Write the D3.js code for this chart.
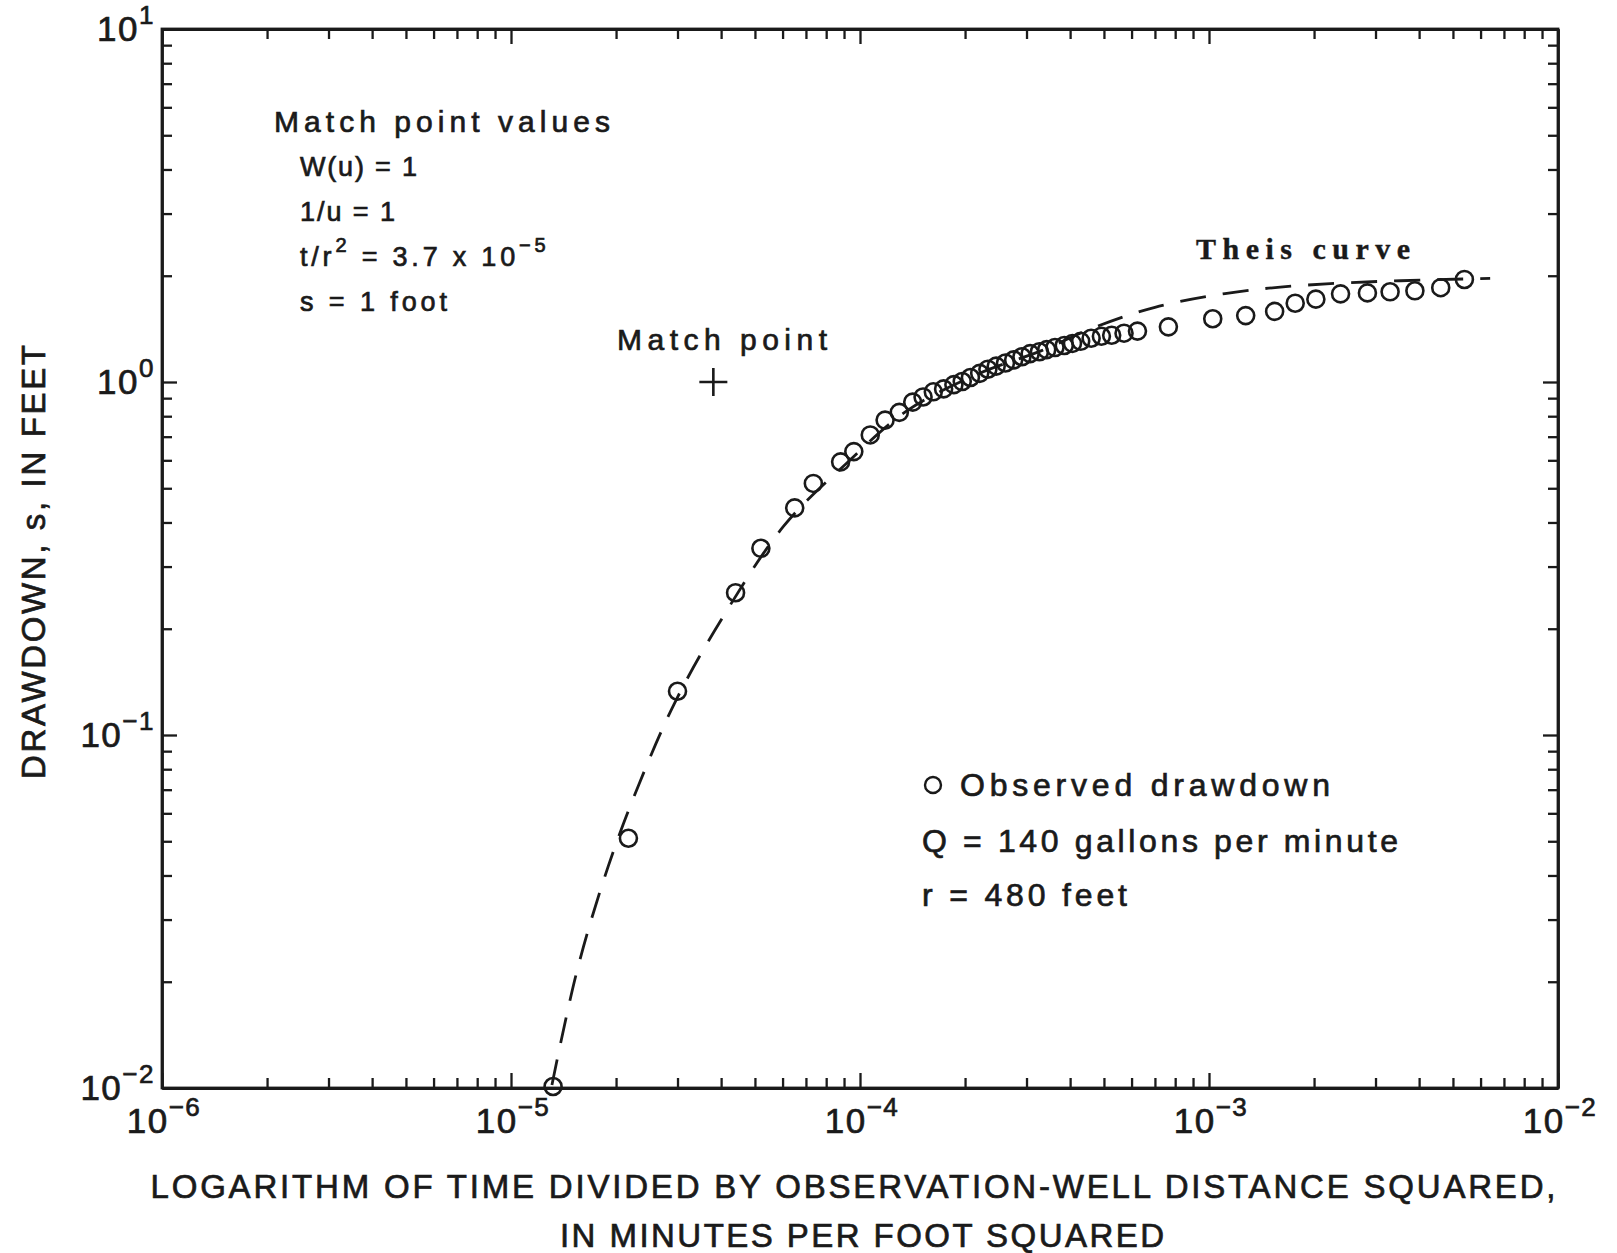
<!DOCTYPE html>
<html>
<head>
<meta charset="utf-8">
<script src="https://cdn.jsdelivr.net/npm/d3@7"></script>
<style>
  html, body { margin: 0; padding: 0; background: #fff; }
  svg { display: block; }
  text { font-family: "Liberation Sans", Arial, Helvetica, sans-serif; fill: #1a1a1a; stroke: #1a1a1a; stroke-width: 0.7px; }
</style>
</head>
<body>
<svg id="chart" width="1617" height="1253"></svg>
<script>
// ---------------- data ----------------
const xDomain = [1e-6, 1e-2];
const yDomain = [1e-2, 1e1];
const xTickValues = [1e-6, 1e-5, 1e-4, 1e-3, 1e-2];
const xTickExponents = ["−6", "−5", "−4", "−3", "−2"];
const yTickValues = [1e-2, 1e-1, 1e0, 1e1];
const yTickExponents = ["−2", "−1", "0", "1"];

// observed drawdown: t/r^2 (min/ft^2) and s (ft)
const obsT = [1.32e-5, 2.17e-5, 3.0e-5, 4.4e-5, 5.2e-5, 6.5e-5, 7.35e-5, 8.8e-5, 9.6e-5,
  1.07e-4, 1.18e-4, 1.296e-4, 1.416e-4, 1.516e-4, 1.622e-4, 1.736e-4, 1.858e-4, 1.963e-4,
  2.072e-4, 2.203e-4, 2.325e-4, 2.456e-4, 2.611e-4, 2.756e-4, 2.911e-4, 3.073e-4, 3.267e-4,
  3.428e-4, 3.620e-4, 3.849e-4, 4.063e-4, 4.289e-4, 4.595e-4, 4.917e-4, 5.262e-4, 5.709e-4,
  6.238e-4, 7.65e-4, 1.025e-3, 1.274e-3, 1.542e-3, 1.766e-3, 2.024e-3, 2.382e-3, 2.844e-3,
  3.303e-3, 3.890e-3, 4.613e-3, 5.393e-3];
const obsS = [0.0101, 0.051, 0.133, 0.253, 0.338, 0.44, 0.516, 0.594, 0.635,
  0.708, 0.78, 0.820, 0.877, 0.907, 0.938, 0.956, 0.983, 1.003,
  1.030, 1.058, 1.087, 1.109, 1.132, 1.155, 1.179, 1.203, 1.218,
  1.235, 1.252, 1.269, 1.286, 1.304, 1.330, 1.348, 1.357, 1.375,
  1.394, 1.433, 1.511, 1.542, 1.585, 1.672, 1.717, 1.777, 1.788,
  1.801, 1.813, 1.850, 1.952];

// Theis type curve
const theisT = [1.31e-5, 1.55e-5, 1.90e-5, 2.33e-5, 2.96e-5, 4.02e-5, 6.05e-5, 9.09e-5,
  1.368e-4, 2.2e-4, 3.314e-4, 4.656e-4, 7.0e-4, 1.207e-3, 2.226e-3, 6.392e-3];
const theisS = [0.0102, 0.0217, 0.0425, 0.0728, 0.1246, 0.2135, 0.391, 0.585,
  0.831, 1.058, 1.227, 1.423, 1.628, 1.801, 1.900, 1.966];

const matchPointT = [3.8e-5];
const matchPointS = [1.0];

const legendLines = ["Observed drawdown", "Q = 140 gallons per minute", "r = 480 feet"];

// ---------------- layout ----------------
const svg = d3.select("#chart");
const mLeft = 162, mRight = 1558, mTop = 29, mBottom = 1088;
const x = d3.scaleLog().domain(xDomain).range([mLeft, mRight]);
const y = d3.scaleLog().domain(yDomain).range([mBottom, mTop]);

const ink = "#1a1a1a";
const minorLen = 10, majorLen = 15;

function isMajor(v) { const l = Math.log10(v); return Math.abs(l - Math.round(l)) < 1e-9; }

const xAllTicks = x.ticks();
const yAllTicks = y.ticks();

function styleAxis(g) {
  g.select(".domain").attr("stroke", ink).attr("stroke-width", 2.8);
  g.selectAll(".tick line").attr("stroke", ink).attr("stroke-width", 2.3);
  g.selectAll(".tick text").remove();
}

const gb = svg.append("g").attr("transform", `translate(0,${mBottom})`)
  .call(d3.axisBottom(x).tickValues(xAllTicks).tickSizeOuter(0).tickSizeInner(-minorLen).tickFormat(""));
styleAxis(gb);
gb.selectAll(".tick line").attr("y2", d => isMajor(d) ? -majorLen : -minorLen);

const gt = svg.append("g").attr("transform", `translate(0,${mTop})`)
  .call(d3.axisTop(x).tickValues(xAllTicks).tickSizeOuter(0).tickSizeInner(-minorLen).tickFormat(""));
styleAxis(gt);
gt.selectAll(".tick line").attr("y2", d => isMajor(d) ? majorLen : minorLen);

const gl = svg.append("g").attr("transform", `translate(${mLeft},0)`)
  .call(d3.axisLeft(y).tickValues(yAllTicks).tickSizeOuter(0).tickSizeInner(-minorLen).tickFormat(""));
styleAxis(gl);
gl.selectAll(".tick line").attr("x2", d => isMajor(d) ? majorLen : minorLen);

const gr = svg.append("g").attr("transform", `translate(${mRight},0)`)
  .call(d3.axisRight(y).tickValues(yAllTicks).tickSizeOuter(0).tickSizeInner(-minorLen).tickFormat(""));
styleAxis(gr);
gr.selectAll(".tick line").attr("x2", d => isMajor(d) ? -majorLen : -minorLen);

svg.append("rect").attr("x", mLeft).attr("y", mTop).attr("width", mRight - mLeft).attr("height", mBottom - mTop)
  .attr("fill", "none").attr("stroke", ink).attr("stroke-width", 2.8);

// tick labels: 10 with superscript exponent
const tickFont = 35, expFont = 26;
xTickValues.forEach((v, i) => {
  const t = svg.append("text").attr("x", x(v) + 2).attr("y", mBottom + 45)
    .attr("text-anchor", "middle").attr("font-size", tickFont).attr("letter-spacing", 1.5);
  t.append("tspan").text("10");
  t.append("tspan").attr("font-size", expFont).attr("dy", -17).text(xTickExponents[i]);
});
yTickValues.forEach((v, i) => {
  const t = svg.append("text").attr("x", mLeft - 7).attr("y", y(v) + 12)
    .attr("text-anchor", "end").attr("font-size", tickFont).attr("letter-spacing", 1.5);
  t.append("tspan").text("10");
  t.append("tspan").attr("font-size", expFont).attr("dy", -17).text(yTickExponents[i]);
});

// axis titles
svg.append("text").attr("x", 853).attr("y", 1198).attr("text-anchor", "middle")
  .attr("font-size", 33).attr("textLength", 1405).attr("lengthAdjust", "spacing")
  .text("LOGARITHM OF TIME DIVIDED BY OBSERVATION-WELL DISTANCE SQUARED,");
svg.append("text").attr("x", 862).attr("y", 1247).attr("text-anchor", "middle")
  .attr("font-size", 33).attr("textLength", 604).attr("lengthAdjust", "spacing")
  .text("IN MINUTES PER FOOT SQUARED");
svg.append("text").attr("transform", "translate(45,562) rotate(-90)").attr("text-anchor", "middle")
  .attr("font-size", 33).attr("textLength", 434).attr("lengthAdjust", "spacing")
  .text("DRAWDOWN, s, IN FEET");

// Theis curve (dashed)
const line = d3.line().x((d, i) => x(theisT[i])).y((d, i) => y(theisS[i])).curve(d3.curveCatmullRom.alpha(0.5));
svg.append("path").datum(theisT).attr("d", line)
  .attr("fill", "none").attr("stroke", ink).attr("stroke-width", 2.8).attr("stroke-dasharray", "26,17");

// observed points
svg.append("g").selectAll("circle").data(obsT).join("circle")
  .attr("cx", (d) => x(d)).attr("cy", (d, i) => y(obsS[i])).attr("r", 8.5)
  .attr("fill", "none").attr("stroke", ink).attr("stroke-width", 2.6);

// match point cross
const mpX = x(matchPointT[0]), mpY = y(matchPointS[0]);
svg.append("path").attr("d", `M${mpX - 14},${mpY}H${mpX + 14}M${mpX},${mpY - 14}V${mpY + 14}`)
  .attr("stroke", ink).attr("stroke-width", 2.6);
svg.append("text").attr("x", 617).attr("y", 350).attr("font-size", 30)
  .attr("textLength", 210).attr("lengthAdjust", "spacing").text("Match point");

// match point values block
svg.append("text").attr("x", 274).attr("y", 132).attr("font-size", 30)
  .attr("textLength", 336).attr("lengthAdjust", "spacing").text("Match point values");
const mvY = [176, 221, 266, 311];
svg.append("text").attr("x", 300).attr("y", mvY[0]).attr("font-size", 27)
  .attr("textLength", 117).attr("lengthAdjust", "spacing").text("W(u) = 1");
svg.append("text").attr("x", 300).attr("y", mvY[1]).attr("font-size", 27)
  .attr("textLength", 95).attr("lengthAdjust", "spacing").text("1/u = 1");
const tr = svg.append("text").attr("x", 300).attr("y", mvY[2]).attr("font-size", 27).attr("letter-spacing", 3.8);
tr.append("tspan").text("t/r");
tr.append("tspan").attr("font-size", 20).attr("dy", -14).text("2");
tr.append("tspan").attr("dy", 14).text(" = 3.7 x 10");
tr.append("tspan").attr("font-size", 20).attr("dy", -14).text("−5");
svg.append("text").attr("x", 300).attr("y", mvY[3]).attr("font-size", 27)
  .attr("textLength", 147).attr("lengthAdjust", "spacing").text("s = 1 foot");

// Theis curve label
svg.append("text").attr("x", 1196).attr("y", 259).attr("font-size", 30).attr("font-weight", "bold")
  .style("font-family", "'Liberation Serif', 'DejaVu Serif', serif").style("stroke-width", "0.4px")
  .attr("textLength", 214).attr("lengthAdjust", "spacing").text("Theis curve");

// legend / well info
svg.append("circle").attr("cx", 933).attr("cy", 785).attr("r", 8)
  .attr("fill", "none").attr("stroke", ink).attr("stroke-width", 2.4);
svg.append("text").attr("x", 960).attr("y", 796).attr("font-size", 32)
  .attr("textLength", 370).attr("lengthAdjust", "spacing").text(legendLines[0]);
svg.append("text").attr("x", 922).attr("y", 852).attr("font-size", 32)
  .attr("textLength", 476).attr("lengthAdjust", "spacing").text(legendLines[1]);
svg.append("text").attr("x", 922).attr("y", 906).attr("font-size", 32)
  .attr("textLength", 205).attr("lengthAdjust", "spacing").text(legendLines[2]);
</script>
</body>
</html>
